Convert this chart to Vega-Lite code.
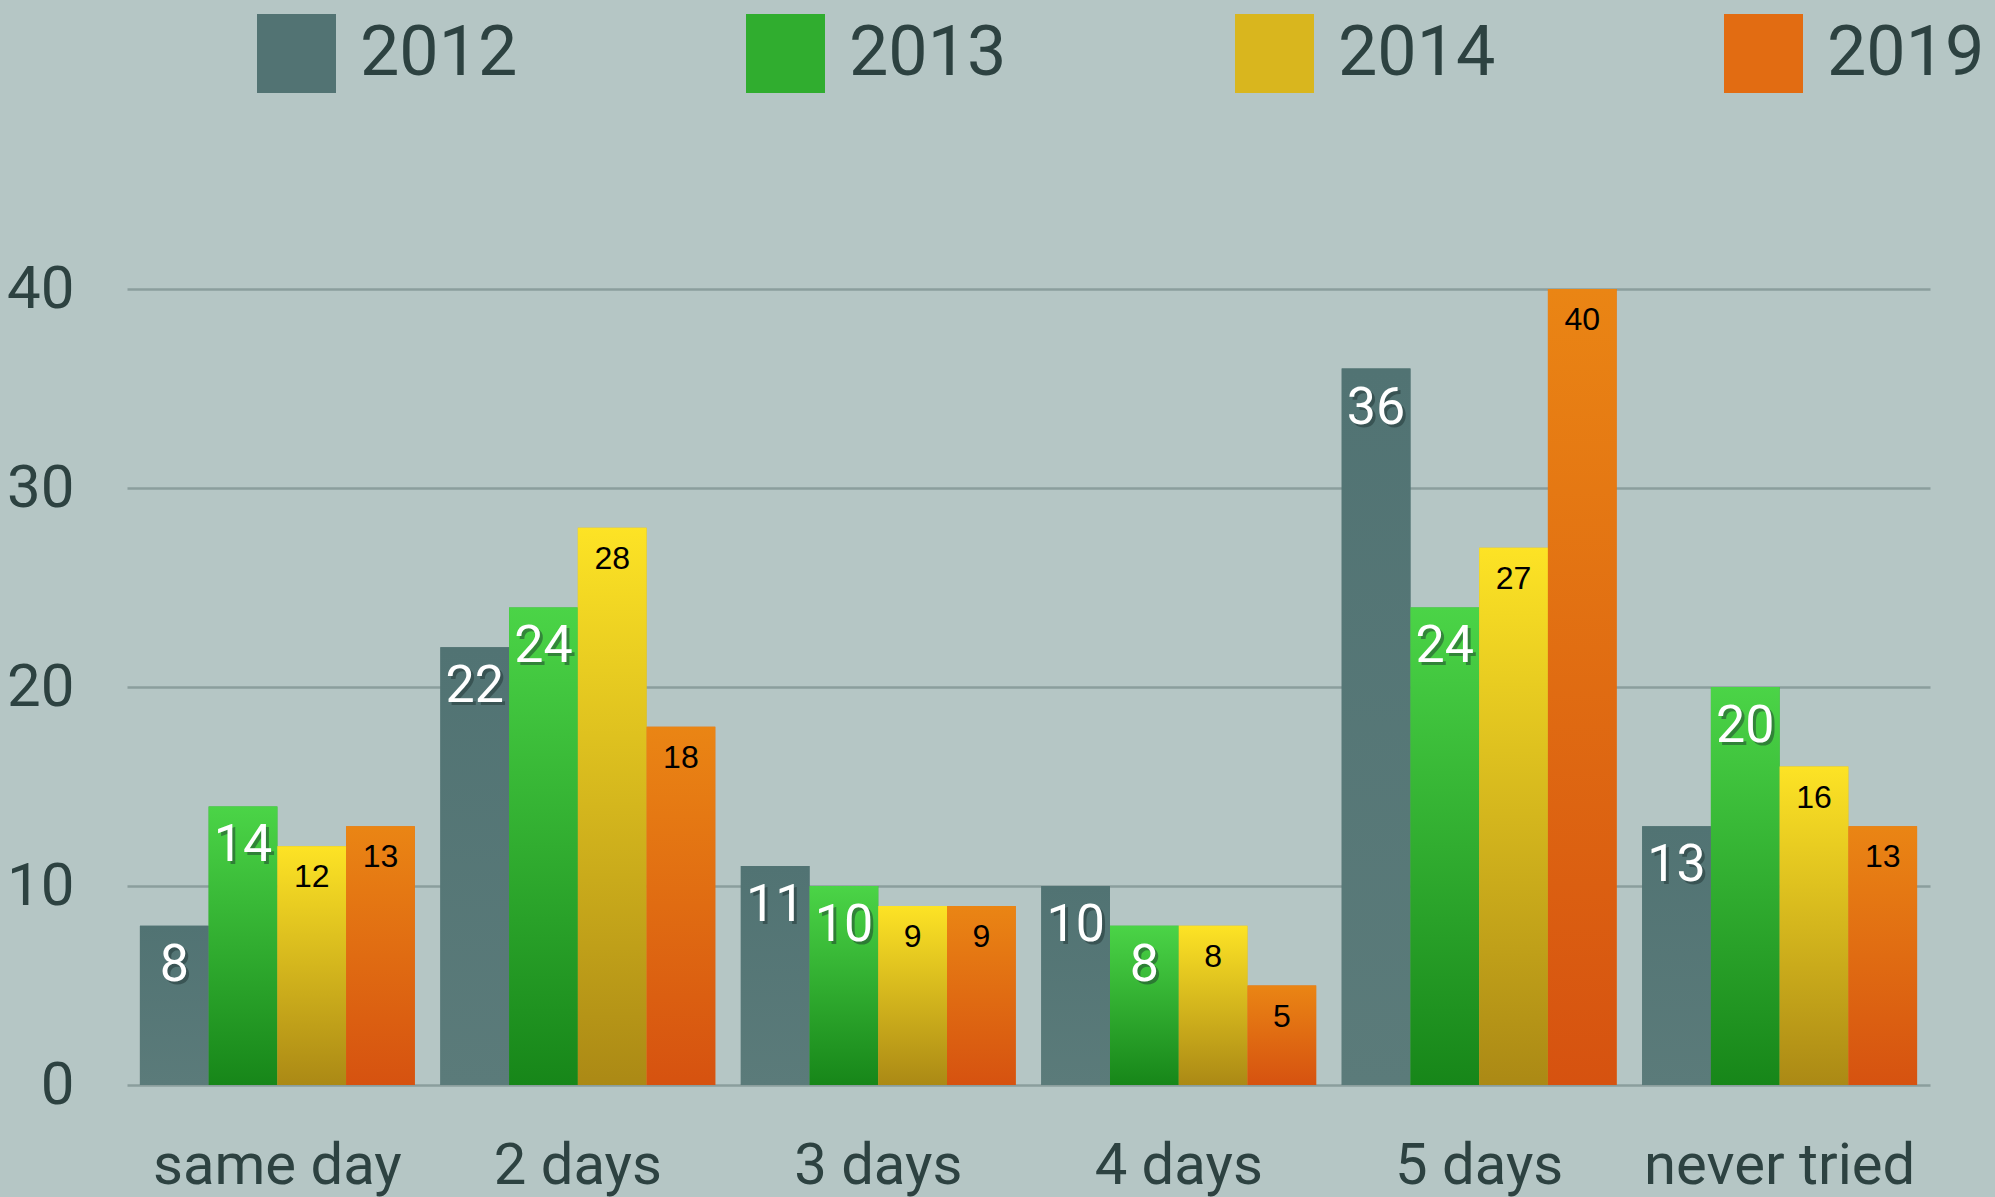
{
  "$schema": "https://vega.github.io/schema/vega-lite/v6.json",
  "width": 1803,
  "height": 796,
  "autosize": {"type": "none"},
  "padding": {"left": 127, "top": 289, "right": 65, "bottom": 112},
  "background": "#b5c6c5",
  "config": {"view": {"stroke": null}},
  "data": {
    "values": [
      {"cat": "same day", "year": "2012", "value": 8},
      {"cat": "same day", "year": "2013", "value": 14},
      {"cat": "same day", "year": "2014", "value": 12},
      {"cat": "same day", "year": "2019", "value": 13},
      {"cat": "2 days", "year": "2012", "value": 22},
      {"cat": "2 days", "year": "2013", "value": 24},
      {"cat": "2 days", "year": "2014", "value": 28},
      {"cat": "2 days", "year": "2019", "value": 18},
      {"cat": "3 days", "year": "2012", "value": 11},
      {"cat": "3 days", "year": "2013", "value": 10},
      {"cat": "3 days", "year": "2014", "value": 9},
      {"cat": "3 days", "year": "2019", "value": 9},
      {"cat": "4 days", "year": "2012", "value": 10},
      {"cat": "4 days", "year": "2013", "value": 8},
      {"cat": "4 days", "year": "2014", "value": 8},
      {"cat": "4 days", "year": "2019", "value": 5},
      {"cat": "5 days", "year": "2012", "value": 36},
      {"cat": "5 days", "year": "2013", "value": 24},
      {"cat": "5 days", "year": "2014", "value": 27},
      {"cat": "5 days", "year": "2019", "value": 40},
      {"cat": "never tried", "year": "2012", "value": 13},
      {"cat": "never tried", "year": "2013", "value": 20},
      {"cat": "never tried", "year": "2014", "value": 16},
      {"cat": "never tried", "year": "2019", "value": 13}
    ]
  },
  "encoding": {
    "x": {
      "field": "cat",
      "type": "nominal",
      "sort": ["same day", "2 days", "3 days", "4 days", "5 days", "never tried"],
      "scale": {"paddingInner": 0.085, "paddingOuter": 0.043},
      "axis": {
        "title": null,
        "domain": false,
        "ticks": false,
        "grid": false,
        "labelAngle": 0,
        "labelFont": "Roboto",
        "labelFontSize": 58,
        "labelColor": "#2d4241",
        "labelBaseline": "alphabetic",
        "labelPadding": 98,
        "labelLimit": 0
      }
    },
    "xOffset": {
      "field": "year",
      "type": "nominal",
      "scale": {"domain": ["2012", "2013", "2014", "2019"], "paddingInner": 0, "paddingOuter": 0}
    },
    "y": {
      "field": "value",
      "type": "quantitative",
      "scale": {"domain": [0, 40], "nice": false},
      "axis": {
        "title": null,
        "values": [0, 10, 20, 30, 40],
        "domain": false,
        "ticks": false,
        "grid": true,
        "gridColor": "#8b9e9d",
        "gridWidth": 2.5,
        "labelFont": "Roboto",
        "labelFontSize": 60,
        "labelColor": "#2d4241",
        "labelPadding": 53
      }
    }
  },
  "layer": [
    {
      "mark": {"type": "bar"},
      "encoding": {
        "color": {
          "field": "year",
          "type": "nominal",
          "scale": {
            "domain": ["2012", "2013", "2014", "2019"],
            "range": ["#527373", "#30ad2f", "#d9b61e", "#e26c12"]
          },
          "legend": {
            "title": null,
            "orient": "none",
            "legendX": 130,
            "legendY": -275,
            "direction": "horizontal",
            "symbolType": "square",
            "symbolSize": 6241,
            "symbolStrokeWidth": 0,
            "symbolOpacity": 1,
            "labelFont": "Roboto",
            "labelFontSize": 70,
            "labelColor": "#2d4241",
            "labelOffset": 24,
            "labelLimit": 0,
            "columnPadding": 228,
            "padding": 0
          }
        }
      }
    },
    {
      "transform": [{"filter": "datum.year == '2012'"}],
      "mark": {"type": "bar", "color": {"gradient": "linear", "x1": 0, "y1": 0, "x2": 0, "y2": 1, "stops": [{"offset": 0, "color": "#517373"}, {"offset": 1, "color": "#5b7b7a"}]}},
      "encoding": {}
    },
    {
      "transform": [{"filter": "datum.year == '2013'"}],
      "mark": {"type": "bar", "color": {"gradient": "linear", "x1": 0, "y1": 0, "x2": 0, "y2": 1, "stops": [{"offset": 0, "color": "#4bd447"}, {"offset": 1, "color": "#178619"}]}},
      "encoding": {}
    },
    {
      "transform": [{"filter": "datum.year == '2014'"}],
      "mark": {"type": "bar", "color": {"gradient": "linear", "x1": 0, "y1": 0, "x2": 0, "y2": 1, "stops": [{"offset": 0, "color": "#fde325"}, {"offset": 1, "color": "#ab8915"}]}},
      "encoding": {}
    },
    {
      "transform": [{"filter": "datum.year == '2019'"}],
      "mark": {"type": "bar", "color": {"gradient": "linear", "x1": 0, "y1": 0, "x2": 0, "y2": 1, "stops": [{"offset": 0, "color": "#ea8514"}, {"offset": 1, "color": "#d65210"}]}},
      "encoding": {}
    },
    {
      "transform": [{"filter": "datum.year == '2012' || datum.year == '2013'"}],
      "mark": {"type": "text", "font": "Roboto", "fontSize": 52, "color": "#1b2e2e", "opacity": 0.45, "baseline": "middle", "dx": 3, "dy": 42},
      "encoding": {"text": {"field": "value", "type": "quantitative"}}
    },
    {
      "transform": [{"filter": "datum.year == '2012' || datum.year == '2013'"}],
      "mark": {"type": "text", "font": "Roboto", "fontSize": 52, "color": "#ffffff", "baseline": "middle", "dy": 39},
      "encoding": {"text": {"field": "value", "type": "quantitative"}}
    },
    {
      "transform": [{"filter": "datum.year == '2014' || datum.year == '2019'"}],
      "mark": {"type": "text", "font": "Liberation Sans", "fontSize": 32, "color": "#000000", "baseline": "middle", "dy": 31},
      "encoding": {"text": {"field": "value", "type": "quantitative"}}
    }
  ]
}
